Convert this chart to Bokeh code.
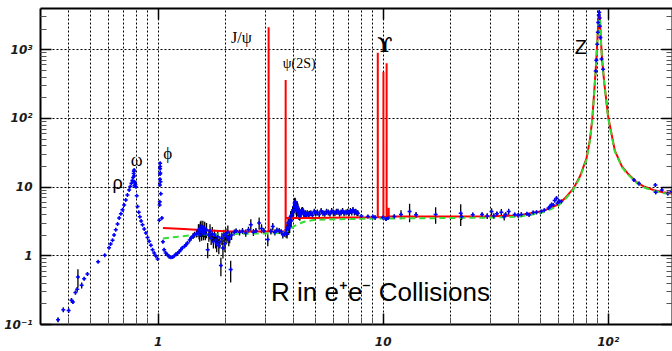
from bokeh.plotting import figure
from bokeh.models import Range1d, LogAxis, FixedTicker, CustomJSTickFormatter, Label
from bokeh.embed import file_html
from bokeh.resources import INLINE

# ---------------- data ----------------
# low energy
EA = [0.359, 0.379, 0.400, 0.412, 0.418, 0.429, 0.437, 0.440, 0.457, 0.469, 0.485, 0.541, 0.579]
RA = [0.117, 0.164, 0.160, 0.226, 0.213, 0.292, 0.326, 0.49, 0.372, 0.465, 0.542, 0.82, 1.02]
dA = [0.08, 0.08, 0.08, 0.08, 0.06, 0.06, 0.08, 0.30, 0.10, 0.05, 0.05, 0.04, 0.04]
# rho / omega
EB = [0.605, 0.615, 0.627, 0.637, 0.648, 0.660, 0.671, 0.683, 0.694, 0.706, 0.718, 0.730, 0.743,
      0.752, 0.761, 0.768, 0.774, 0.778, 0.780, 0.782, 0.782, 0.783, 0.785, 0.788, 0.792, 0.796,
      0.803, 0.810, 0.820, 0.829, 0.840, 0.852, 0.867, 0.882, 0.897, 0.912, 0.928, 0.944, 0.960,
      0.977, 0.994]
RB = [1.31, 1.48, 1.68, 2.0, 2.4, 2.9, 3.54, 4.1, 4.67, 5.5, 6.5, 7.7, 9.1,
      10.2, 11.4, 12.5, 13.8, 15.8, 17.0, 17.7, 14.5, 12.0, 10.5, 11.8, 10.9, 10.1,
      7.5, 5.2, 4.3, 3.7, 3.2, 2.83, 2.45, 2.15, 1.85, 1.63, 1.42, 1.23, 1.1,
      0.99, 0.90]
dB = [0.03, 0.03, 0.03, 0.03, 0.03, 0.03, 0.03, 0.03, 0.03, 0.03, 0.03, 0.03, 0.03,
      0.03, 0.03, 0.03, 0.03, 0.03, 0.03, 0.03, 0.03, 0.03, 0.03, 0.03, 0.03, 0.03,
      0.03, 0.03, 0.03, 0.03, 0.03, 0.03, 0.03, 0.03, 0.03, 0.03, 0.03, 0.03, 0.03,
      0.03, 0.03]
# phi
EC = [1.012, 1.015, 1.017, 1.018, 1.019, 1.0195, 1.020, 1.0205, 1.021, 1.022, 1.024, 1.027, 1.039]
RC = [3.3, 5.5, 6.1, 10.7, 13.0, 15.5, 18.5, 22.3, 20.0, 16.0, 12.0, 8.0, 3.55]
dC = [0.04, 0.04, 0.04, 0.04, 0.04, 0.04, 0.04, 0.04, 0.04, 0.04, 0.04, 0.04, 0.04]
# 1.05 - 1.5 GeV
ED = [1.05, 1.063, 1.08, 1.10, 1.12, 1.14, 1.16, 1.18, 1.20, 1.22, 1.24, 1.26, 1.28, 1.31,
      1.33, 1.35, 1.38, 1.40, 1.43, 1.45, 1.48]
RD = [1.6, 1.23, 1.1, 1.04, 0.97, 0.95, 0.96, 1.0, 1.05, 1.1, 1.15, 1.23, 1.3, 1.38,
      1.45, 1.54, 1.7, 1.82, 1.95, 2.03, 2.1]
dD = [0.05, 0.05, 0.05, 0.05, 0.05, 0.05, 0.05, 0.05, 0.05, 0.05, 0.06, 0.06, 0.06, 0.06,
      0.06, 0.06, 0.08, 0.08, 0.1, 0.1, 0.12]
# 1.5 - 2.15 GeV
EE = [1.50, 1.51, 1.52, 1.53, 1.54, 1.55, 1.56, 1.57, 1.58, 1.59, 1.60, 1.61, 1.62, 1.64,
      1.66, 1.68, 1.70, 1.72, 1.74, 1.76, 1.78, 1.80, 1.82, 1.84, 1.86, 1.88, 1.90, 1.92,
      1.94, 1.96, 1.98, 2.00, 2.02, 2.04, 2.06, 2.08, 2.10, 2.12]
RE = [2.15, 2.4, 2.3, 2.0, 2.5, 2.7, 2.2, 2.35, 2.6, 2.1, 2.3, 2.5, 2.1, 2.4,
      1.23, 2.0, 2.3, 1.8, 2.1, 1.6, 2.0, 1.7, 1.5, 1.9, 1.4, 1.6, 0.72, 1.8,
      1.3, 2.0, 1.5, 2.1, 1.9, 2.2, 1.72, 1.9, 0.63, 2.0]
dE = [0.12, 0.2, 0.25, 0.2, 0.25, 0.2, 0.25, 0.2, 0.25, 0.2, 0.2, 0.25, 0.2, 0.25,
      0.25, 0.2, 0.25, 0.2, 0.25, 0.2, 0.2, 0.25, 0.25, 0.2, 0.25, 0.2, 0.3, 0.2,
      0.3, 0.2, 0.25, 0.2, 0.2, 0.25, 0.2, 0.2, 0.35, 0.15]
# 2.15 - 3.7 GeV
EF = [2.18, 2.22, 2.30, 2.37, 2.45, 2.52, 2.58, 2.65, 2.72, 2.81, 2.88, 2.95, 3.07, 3.17,
      3.23, 3.30, 3.37, 3.45, 3.52, 3.58, 3.64]
RF = [2.2, 2.32, 2.2, 2.3, 2.15, 2.4, 2.83, 2.2, 2.3, 3.0, 2.5, 2.3, 1.72, 2.27,
      2.68, 2.2, 2.35, 2.3, 2.25, 2.03, 2.1]
dF = [0.1, 0.08, 0.1, 0.1, 0.12, 0.1, 0.2, 0.12, 0.1, 0.2, 0.15, 0.1, 0.2, 0.1,
      0.12, 0.1, 0.1, 0.1, 0.08, 0.12, 0.1]
# charm threshold
EG = [3.70, 3.72, 3.74, 3.76, 3.78, 3.80, 3.82, 3.84, 3.86, 3.88, 3.90, 3.93, 3.96, 4.00,
      4.02, 4.04, 4.06, 4.08, 4.10, 4.12, 4.15, 4.18, 4.20, 4.22, 4.24, 4.26, 4.28, 4.31,
      4.34, 4.38, 4.41, 4.44, 4.48, 4.52, 4.56, 4.60, 4.65]
RG = [2.15, 2.4, 2.1, 2.6, 3.0, 2.5, 2.9, 2.68, 3.3, 3.73, 3.2, 4.0, 4.3, 4.67,
      5.2, 5.8, 6.1, 5.5, 5.0, 4.6, 5.2, 4.8, 4.2, 3.9, 4.4, 3.8, 4.0, 4.17,
      4.5, 4.6, 4.4, 4.1, 3.95, 4.1, 3.95, 4.2, 4.0]
dG = [0.15, 0.2, 0.15, 0.2, 0.2, 0.2, 0.2, 0.2, 0.2, 0.2, 0.2, 0.2, 0.2, 0.2,
      0.2, 0.2, 0.15, 0.2, 0.2, 0.2, 0.2, 0.2, 0.15, 0.15, 0.15, 0.15, 0.15, 0.15,
      0.12, 0.12, 0.12, 0.12, 0.12, 0.12, 0.1, 0.1, 0.1]
# 4.7 - 8 GeV
EH = [4.70, 4.77, 4.85, 4.94, 5.02, 5.10, 5.20, 5.30, 5.40, 5.50, 5.60, 5.70, 5.80, 5.90,
      6.00, 6.10, 6.20, 6.30, 6.40, 6.50, 6.60, 6.70, 6.84, 6.95, 7.05, 7.15, 7.25, 7.34,
      7.45, 7.55, 7.65, 7.72]
RH = [4.1, 4.2, 3.9, 4.4, 4.2, 4.3, 4.0, 4.5, 4.2, 4.1, 4.4, 4.3, 4.1, 4.5,
      4.3, 4.2, 4.4, 4.4, 4.1, 4.3, 4.5, 4.2, 4.3, 4.4, 4.2, 4.5, 4.3, 4.67,
      4.3, 4.4, 4.2, 4.17]
dH = [0.1, 0.1, 0.1, 0.1, 0.1, 0.1, 0.1, 0.1, 0.1, 0.1, 0.1, 0.1, 0.1, 0.1,
      0.1, 0.1, 0.1, 0.1, 0.1, 0.1, 0.1, 0.1, 0.1, 0.1, 0.1, 0.1, 0.1, 0.1,
      0.1, 0.1, 0.1, 0.1]
# 8 - 62 GeV
EI = [8.0, 8.55, 8.99, 9.2, 9.96, 10.3, 10.5, 11.2, 12.0, 13.1, 14.0, 17.1, 22.1, 22.3,
      25.0, 27.5, 29.0, 30.3, 31.0, 32.0, 33.5, 34.5, 35.0, 36.1, 38.4, 39.8, 41.1, 43.5,
      44.5, 46.4, 48.0, 50.4, 52.0, 54.3, 55.1, 56.0, 57.0, 57.8, 58.9, 59.5, 60.5, 61.8]
RI = [3.8, 3.73, 3.73, 3.6, 3.6, 3.42, 3.55, 3.73, 4.0, 4.4, 3.95, 4.0, 4.17, 3.7,
      3.95, 4.0, 3.8, 4.4, 3.8, 4.1, 4.3, 3.7, 4.0, 4.4, 4.0, 3.9, 4.0, 4.1,
      3.95, 4.26, 4.3, 4.4, 4.6, 4.95, 5.2, 5.6, 5.5, 6.4, 6.9, 5.8, 6.2, 6.15]
dI = [0.06, 0.05, 0.05, 0.08, 0.05, 0.06, 0.06, 0.08, 0.15, 0.3, 0.1, 0.27, 0.35, 0.1,
      0.08, 0.08, 0.1, 0.12, 0.1, 0.08, 0.12, 0.12, 0.08, 0.1, 0.06, 0.08, 0.08, 0.06,
      0.06, 0.06, 0.06, 0.06, 0.06, 0.06, 0.06, 0.06, 0.07, 0.07, 0.07, 0.06, 0.06, 0.06]
# Z region and above
EJ = [88.0, 88.5, 89.4, 89.9, 90.2, 90.8, 91.2, 91.5, 91.7, 92.3, 93.4, 94.9,
      130.0, 137.0, 162.0, 162.5, 173.0, 184.0, 191.0]
RJ = [490, 700, 1200, 1800, 2500, 3200, 3500, 2900, 2200, 1500, 730, 520,
      12.7, 11.3, 10.7, 8.4, 9.1, 8.1, 8.6]
dJ = [0.08, 0.08, 0.08, 0.08, 0.08, 0.08, 0.08, 0.08, 0.08, 0.08, 0.08, 0.08,
      0.06, 0.06, 0.06, 0.06, 0.06, 0.06, 0.06]

# red curve: quark model with narrow resonances
red_E = [1.05, 1.3, 1.6, 2.0, 2.5, 3.094, 3.096, 3.098, 3.684, 3.686, 3.688, 5.0, 7.0,
         9.458, 9.460, 9.462, 10.021, 10.023, 10.025, 10.353, 10.355, 10.357,
         10.575, 10.580, 10.585, 15.0, 20.0, 30.0, 40.0, 50.0, 55.0, 60.0, 65.0, 70.0,
         75.0, 80.0, 83.0, 85.0, 87.0, 88.5, 89.5, 90.5, 91.2, 92.0, 93.0, 94.0, 96.0,
         100.0, 107.0, 115.0, 122.0, 135.0, 145.0, 160.0, 175.0, 195.0]
red_R = [2.54, 2.45, 2.35, 2.27, 2.25, 2.25, 2130, 2.25, 2.25, 361, 3.54, 3.55, 3.6,
         3.65, 905, 3.65, 3.68, 476, 3.68, 3.7, 636, 3.7,
         3.7, 5.0, 3.72, 3.73, 3.74, 3.78, 3.86, 4.4, 4.9, 5.6, 7.2, 9.5,
         14.5, 26.0, 50.0, 100.0, 300.0, 700.0, 1400.0, 2800.0, 3500.0, 2600.0, 1200.0, 700.0, 330.0,
         104.0, 34.0, 20.0, 15.8, 11.5, 10.1, 9.0, 8.4, 8.0]
# green dashed curve: perturbative QCD
green_E = [1.05, 1.2, 1.4, 1.8, 2.5, 3.0, 3.6, 3.8, 4.0, 4.3, 4.5, 5.0, 6.0, 8.0, 10.0,
           15.0, 20.0, 30.0, 40.0, 50.0, 55.0, 60.0, 65.0, 70.0, 75.0, 80.0, 83.0, 85.0,
           87.0, 88.5, 89.5, 90.5, 91.2, 92.0, 93.0, 94.0, 96.0, 100.0, 107.0, 115.0,
           122.0, 135.0, 145.0, 160.0, 175.0, 195.0]
green_R = [1.78, 1.88, 2.0, 2.05, 2.1, 2.12, 2.15, 2.3, 2.68, 3.0, 3.16, 3.35, 3.4, 3.45, 3.5,
           3.52, 3.55, 3.6, 3.7, 4.2, 4.7, 5.4, 6.9, 9.2, 14.0, 25.0, 48.0, 97.0,
           290.0, 680.0, 1380.0, 2750.0, 3450.0, 2550.0, 1180.0, 680.0, 320.0, 100.0, 33.0, 19.5,
           15.4, 11.2, 9.8, 8.8, 8.2, 7.8]

y_tick_values = [0.1, 1, 10, 100, 1000]
y_tick_labels = ["10\u207b\u00b9", "1", "10", "10\u00b2", "10\u00b3"]
x_tick_values = [1, 10, 100]
x_tick_labels = ["1", "10", "10\u00b2"]
blank_labels = ["", "", "", "", ""]

# ---------------- figure ----------------
p = figure(width=672, height=351, x_axis_type="log", y_axis_type="log",
           x_range=Range1d(0.3, 193), y_range=Range1d(0.1, 10 ** 3.6),
           output_backend="svg", toolbar_location=None,
           min_border_left=40, min_border_right=0, min_border_top=8, min_border_bottom=25,
           background_fill_color="white", border_fill_color="white")
p.outline_line_color = None

y_minor = [m * 10.0 ** k for k in range(-1, 4) for m in range(2, 10)]
x_minor = [m * 10.0 ** k for k in range(-1, 3) for m in range(2, 10)]
yt = FixedTicker(ticks=y_tick_values, minor_ticks=y_minor)
xt = FixedTicker(ticks=x_tick_values, minor_ticks=x_minor)

fmt_code = """
for (let i = 0; i < vals.length; i++) {
  if (Math.abs(Math.log10(tick) - Math.log10(vals[i])) < 1e-6) { return labels[i]; }
}
return "";
"""

def style_axis(ax, ticker, minor_len):
    ax.ticker = ticker
    ax.axis_line_width = 2
    ax.axis_line_color = "black"
    ax.major_tick_in = 11
    ax.major_tick_out = 0
    ax.minor_tick_in = minor_len
    ax.minor_tick_out = 0
    ax.major_tick_line_color = "black"
    ax.minor_tick_line_color = "#555555"
    ax.major_tick_line_width = 1.5
    ax.major_label_text_font = "DejaVu Sans"
    ax.major_label_text_font_style = "bold italic"
    ax.major_label_text_font_size = "12px"
    ax.major_label_text_color = "#1a1a1a"

yax = p.yaxis[0]
style_axis(yax, yt, 6)
yax.formatter = CustomJSTickFormatter(args=dict(vals=y_tick_values, labels=y_tick_labels), code=fmt_code)
yax.major_label_standoff = 8

xax = p.xaxis[0]
style_axis(xax, xt, 7)
xax.formatter = CustomJSTickFormatter(args=dict(vals=x_tick_values, labels=x_tick_labels), code=fmt_code)
xax.major_label_standoff = 10

rax = LogAxis()
style_axis(rax, FixedTicker(ticks=y_tick_values, minor_ticks=y_minor), 6)
rax.formatter = CustomJSTickFormatter(args=dict(vals=y_tick_values, labels=blank_labels), code=fmt_code)
rax.major_label_standoff = 0
p.add_layout(rax, "right")

tax = LogAxis()
style_axis(tax, FixedTicker(ticks=x_tick_values, minor_ticks=[]), 0)
tax.formatter = CustomJSTickFormatter(args=dict(vals=x_tick_values, labels=blank_labels), code=fmt_code)
tax.major_label_standoff = 0
p.add_layout(tax, "above")

p.xgrid.ticker = xt
p.xgrid.grid_line_color = "black"
p.xgrid.grid_line_dash = "2 2"
p.xgrid.grid_line_width = 1
p.xgrid.minor_grid_line_color = "black"
p.xgrid.minor_grid_line_dash = "2 2"
p.xgrid.minor_grid_line_width = 1
p.ygrid.ticker = yt
p.ygrid.grid_line_color = "black"
p.ygrid.grid_line_dash = "2 2"
p.ygrid.grid_line_width = 1

# ---------------- data drawing ----------------
E_all = EA + EB + EC + ED + EE + EF + EG + EH + EI + EJ
R_all = RA + RB + RC + RD + RE + RF + RG + RH + RI + RJ
d_all = dA + dB + dC + dD + dE + dF + dG + dH + dI + dJ
lo = [r * (1 - d) for r, d in zip(R_all, d_all)]
hi = [r * (1 + d) for r, d in zip(R_all, d_all)]

p.segment(x0=E_all, y0=lo, x1=E_all, y1=hi, line_color="black", line_width=1.3)
p.line(red_E, red_R, line_color="#ff0000", line_width=2)
p.line(green_E, green_R, line_color="#33dd33", line_width=2, line_dash="6 4")
p.scatter(E_all, R_all, marker="cross", size=4, line_width=1.5, color="#0000ff")

# ---------------- annotations ----------------
serif = "Liberation Serif"
sans = "Liberation Sans"
labels = [
    ("J/\u03c8", 2.106, 1525, serif, "16px", "normal"),
    ("\u03c8(2S)", 3.58, 628, serif, "14px", "normal"),
    ("\u03d2", 9.40, 1169, "DejaVu Serif", "20px", "bold"),
    ("Z", 71.0, 1094, sans, "20px", "normal"),
    ("\u03c1", 0.627, 11.6, sans, "18px", "normal"),
    ("\u03c9", 0.756, 25.2, serif, "18px", "normal"),
    ("\u03d5", 1.053, 31.1, serif, "17px", "normal"),
    ("R in e\u207ae\u207b Collisions", 3.174, 0.295, sans, "26px", "normal"),
]
for txt, lx, ly, font, size, style in labels:
    p.add_layout(Label(x=lx, y=ly, text=txt, text_font=font, text_font_size=size,
                       text_font_style=style, text_color="black",
                       text_align="left", text_baseline="alphabetic"))

open("out.html", "w").write(file_html(p, INLINE))
